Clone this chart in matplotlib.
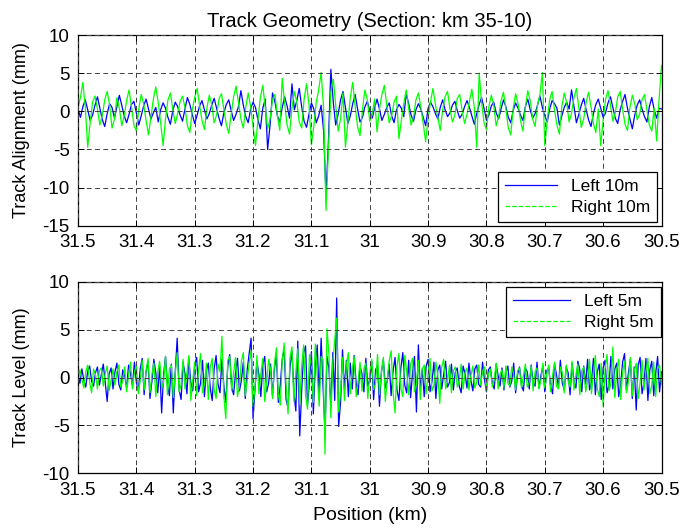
import matplotlib
matplotlib.use("Agg")

import matplotlib.pyplot as plt
import numpy as np
from matplotlib.lines import Line2D

plt.rcParams["font.family"] = ["Liberation Sans", "DejaVu Sans"]
plt.rcParams["font.size"] = 13
plt.rcParams["axes.unicode_minus"] = False

# section start / end (km)
km_start = 31.5
km_end = 30.5

# track alignment, 10m chord (mm)
left_10m = [
    0.3, -0.8, 0.6, 1.5, 0.2, -1.2, -0.5, 0.8, 1.9, 0.4, -1.1, -2.0, -0.3, 1.0, 0.5, -0.9, 0.6, 2.1, 0.8, -0.6,
    -1.5, -0.4, 0.9, 1.3, -0.2, -1.8, -0.6, 0.7, 1.6, 0.3, -1.0, -0.2, 0.5, -1.4, 0.2, 1.1, 0.4, -0.8, -1.7, 0.1,
    1.2, 0.6, -0.5, -1.3, 0.3, 1.8, 0.9, -0.4, -1.6, -0.5, 0.7, 1.4, 0.2, -1.0, -0.3, 0.8, 1.7, 0.4, -0.9, -1.9,
    -0.2, 0.9, 1.5, 0.1, -1.2, -0.4, 0.6, 2.7, 0.8, -0.7, -1.5, 0.3, 1.2, 0.5, -1.1, -2.3, 0.4, 1.6, -5.0, -1.8,
    2.4, 1.2, -0.6, -1.4, 0.5, 1.9, 0.7, -0.9, 3.6, 0.2, 1.4, 3.0, 0.6, -1.3, -2.1, -0.4, 1.1, 0.3, -1.5, -0.6,
    0.8, -2.5, -11.0, -4.0, 5.5, 1.2, -1.8, -0.4, 1.5, 2.6, 0.5, -1.6, -0.6, 1.0, 2.2, 0.3, -1.4, -0.8, 0.6, 1.3,
    0.1, -0.9, 0.4, 1.6, 0.3, -1.2, -0.4, 0.5, 1.1, -0.6, -1.5, 0.2, 0.9, 0.4, -0.7, 2.3, 1.0, -0.5, -1.3, 0.2,
    1.0, 0.3, -0.8, -1.9, 0.4, 1.2, 0.6, -0.3, -1.0, 0.5, 1.5, 0.2, -0.7, -0.2, 0.8, 1.3, 0.1, -0.9, -0.4, 0.6,
    1.4, 0.5, -0.6, -1.7, -0.3, 0.9, 1.8, 0.4, -1.2, -0.5, 0.7, 1.2, -0.2, -1.0, 0.3, 1.5, 0.6, -0.8, -1.5, 0.1,
    1.1, 0.4, -0.5, -1.2, 0.6, 1.6, 0.2, -0.9, -0.3, 0.8, 2.0, 0.5, -0.6, -1.4, 0.3, 1.4, 1.0, 0.4, -1.8, -0.6,
    0.5, 1.2, 0.3, 2.8, 0.6, -1.5, -0.4, 0.8, 1.7, 0.2, -1.1, -2.0, -0.3, 0.9, 1.6, 0.4, -0.8, -0.2, 1.1, 1.9,
    0.5, -0.9, -1.6, 0.2, 1.3, 2.2, 0.4, -1.0, -2.3, -0.5, 0.8, 1.5, 0.3, -0.7, -1.4, 0.6, 1.8, 0.2, -0.9, 0.4, 0.3,
]
right_10m = [
    0.5, 1.8, 3.8, 0.5, -4.7, -1.5, 1.2, 2.0, 0.3, -1.8, -0.5, 1.5, 2.6, 0.8, -2.2, -1.0, 1.8, 0.4, -1.9, -0.6,
    1.4, 2.8, 0.6, -1.8, -2.6, 0.3, 2.2, 1.0, -1.2, -3.1, -0.8, 1.6, 3.2, 1.2, -1.5, -4.5, -1.0, 1.5, 2.4, 0.2,
    -1.6, -0.3, 1.3, 2.0, 0.5, -1.9, -2.8, 0.2, 1.8, 3.0, 0.8, -1.2, -2.4, 0.4, 2.1, 0.9, -1.5, -0.5, 1.6, 2.3,
    0.2, -1.7, -2.9, -0.4, 1.9, 3.3, 1.1, -1.0, -2.2, 0.5, 2.4, 0.7, -2.0, -4.5, -1.2, 1.8, 3.4, 0.6, -2.3, -1.0,
    1.5, 2.2, -0.5, -2.5, 4.3, 1.0, -1.8, -3.0, 0.4, 2.6, 1.2, -1.4, -2.2, 1.6, 3.6, 0.9, -4.4, -2.0, 1.2, 2.8,
    5.1, 0.5, -13.0, -5.0, 2.5, 4.2, 0.8, -2.6, -1.0, 2.4, -4.7, -1.5, 1.8, 3.8, 0.6, -2.0, -3.2, 0.2, 2.8, 1.5,
    -1.3, -0.4, 1.6, -2.7, 0.3, 2.2, 3.4, 0.8, -1.5, -0.6, 1.2, 2.0, -3.6, -1.2, 1.0, 2.8, 0.4, -1.8, -0.8, 1.5,
    2.4, 0.6, -1.6, -4.0, -1.0, 1.3, 3.0, 0.9, -0.8, -2.5, 0.2, 1.9, 2.6, 0.3, -1.4, -0.5, 1.7, 2.2, 0.1, -1.6,
    -0.4, 1.3, 2.9, 0.5, -4.7, 5.0, 1.2, -1.5, -2.4, 0.6, 2.1, 0.8, -1.9, -0.7, 1.4, 2.5, 0.3, -2.2, -3.1, 0.4,
    2.3, 1.0, -1.2, -2.6, 0.5, 2.7, 1.4, -1.0, -2.0, 0.8, 2.2, 5.1, -4.5, -1.2, 1.5, 2.6, 0.2, -1.8, -3.0, 0.6,
    2.4, 1.1, -1.4, -0.3, 1.8, 3.0, 0.4, -2.1, -1.0, 1.2, 2.5, 0.6, -1.6, -2.8, 0.3, -4.5, -1.2, 1.6, 2.7, 0.8,
    -1.3, -0.2, 1.9, 2.6, 0.3, -1.7, -2.5, 0.5, 2.1, 1.0, -1.1, -0.4, 1.5, 2.2, 0.2, -1.8, -2.6, 0.4, -3.9, 1.5, 6.0,
]

# track level, 5m chord (mm)
left_5m = [
    0.2, -0.6, 0.9, -0.3, -1.0, 0.7, 1.2, -0.4, -0.9, 0.5, 1.1, -0.8, 0.3, 1.4, -0.6, -2.5, 0.4, 1.0, -1.2, 0.6,
    1.5, -0.7, -1.3, 0.8, 0.2, -1.1, 1.3, 0.4, -0.9, 1.6, -0.5, -1.4, 0.9, 2.0, -1.8, 0.6, 1.7, -2.2, -0.4, 1.9,
    0.5, -1.6, 1.2, -3.7, 0.3, 2.2, -0.8, -1.9, 1.4, -3.7, 0.6, 4.1, -1.3, -2.3, 1.6, 0.4, -1.7, 2.0, -0.5, -1.4,
    1.3, 2.1, -1.5, -0.6, 1.8, -2.0, 0.7, 1.5, -1.1, -2.4, 0.9, 2.3, -0.7, -1.6, 1.9, -0.9, -2.6, 1.2, 2.4, -1.0,
    -1.8, 0.5, 2.0, -1.4, -0.3, 1.6, -2.2, 0.8, 2.5, 4.1, -4.3, -1.2, 1.7, 0.3, -2.0, 1.3, 2.2, -1.5, -0.6, 1.4,
    -1.9, 0.9, 2.4, -2.6, -0.8, 1.9, 3.0, -2.3, -3.2, 1.1, 2.8, -1.6, -3.5, 3.8, -6.1, -1.4, 2.5, 3.3, -2.9, -0.5,
    2.7, -3.8, 1.2, 3.4, -2.1, 4.1, -1.0, -5.7, 2.2, 1.0, -3.1, 2.6, -2.4, 8.3, -5.1, -2.6, 2.9, -1.3, 1.8, -2.0,
    1.5, -1.2, 2.3, -0.6, -1.8, 1.2, 0.4, -1.5, 2.0, -0.9, -0.2, 1.7, -2.3, 0.8, 1.3, -3.0, 0.6, 1.9, -1.1, -0.4,
    1.4, -1.9, 0.7, 2.1, -1.3, -2.4, 1.0, 2.6, -0.8, -1.6, 1.8, -2.1, 0.5, 2.2, -3.6, 3.4, -1.4, 0.9, -2.0, 1.2,
    1.9, -1.5, -0.4, 1.6, -2.2, 0.8, 1.3, -1.2, 0.3, 1.7, -1.0, -0.5, 1.4, -1.3, 0.6, 1.0, -0.9, -1.6, 1.2, 0.4,
    -1.1, 1.5, -0.3, -1.4, 0.9, 1.3, -0.7, -1.0, 1.6, -0.2, -1.5, 0.8, 1.1, -0.6, -1.2, 1.4, 0.2, -0.9, 1.0, -1.3,
    0.5, 1.2, -1.0, -0.4, 1.5, -1.6, 0.3, 1.1, -0.8, -1.4, 1.0, 0.6, -1.2, 1.3, -0.5, -0.9, 1.6, -1.1, 0.2, 1.2,
    -1.5, 0.7, 1.0, -0.9, -1.7, 1.4, 0.3, -1.0, 1.8, -0.6, -1.3, 1.1, 0.5, -1.8, 1.5, -0.4, -1.1, 1.7, 0.8, -1.5,
    1.2, -0.7, 1.9, -1.3, -0.5, 2.0, -1.8, 0.6, 1.4, -2.3, 1.0, 1.8, -1.6, -0.8, 2.2, -1.2, 0.9, 1.5, -2.0, -0.7,
    1.6, 2.5, -1.4, 0.5, 1.9, -2.2, 1.1, -3.4, 1.3, 2.1, -1.7, -0.6, 2.0, -2.4, 0.8, 1.7, -1.9, 0.4, 2.2, -1.5, 0.6,
]
right_5m = [
    -0.4, 0.8, -0.2, -1.1, 0.6, 1.3, -0.5, -1.6, 0.9, 0.3, -1.2, 0.7, 1.0, -0.9, 0.4, 1.2, -1.4, -0.3, 0.9, -0.8,
    0.6, 1.3, -1.0, -0.4, 1.1, -1.5, 0.2, 1.6, -1.2, 0.5, 1.4, -1.7, -0.3, 1.8, -1.3, 0.7, 2.0, -1.6, 0.3, 1.5,
    -2.0, 0.6, 1.7, -1.1, -0.5, 2.2, -1.8, 0.9, 1.3, -2.1, 0.4, 2.6, -1.5, -0.8, 1.9, -1.2, 0.5, 2.3, -2.4, -0.3,
    1.6, -1.9, 0.8, 2.5, -1.6, -0.7, 1.5, -2.3, 1.1, 2.0, -1.3, -2.2, 1.4, 0.6, 4.3, -2.0, -4.3, 1.8, 2.2, -1.4,
    0.5, 2.1, -2.0, -0.9, 1.7, 2.6, -1.9, -0.3, 1.5, 2.8, -3.0, -1.0, 2.3, -1.7, 0.4, 2.0, -2.5, -0.6, 1.9, 0.8,
    -2.2, 1.4, 3.1, -1.8, -2.9, 1.7, 3.6, -0.9, -3.8, 2.1, 3.2, -2.5, 0.6, 3.0, -2.8, 1.2, 3.4, -1.9, -3.3, 2.4,
    1.1, -2.6, 3.5, 0.4, -3.0, 2.2, 1.8, -8.0, 5.1, 2.5, -4.2, 1.6, 3.9, 6.2, -3.6, -1.5, 2.1, -2.4, 1.3, 2.6,
    -1.7, 0.8, 2.2, -2.0, -0.4, 1.6, -1.4, 0.9, 1.5, -2.2, 0.3, 1.9, -1.3, -0.6, 2.4, -1.8, 0.5, 2.1, -2.5, -0.2,
    1.7, 2.8, -1.6, -3.7, 1.2, 2.5, -1.1, -2.0, 2.3, 0.6, -1.8, 1.4, 2.0, -1.5, -0.7, 1.8, -2.3, 0.9, 1.3, -1.7,
    0.4, 2.0, -1.4, -0.8, 1.6, 0.2, -2.7, 1.1, 1.9, -1.2, -0.4, 1.3, -1.6, 0.7, 1.1, -1.0, -0.3, 1.4, -1.2, 0.5,
    1.0, -1.3, 0.2, 1.2, -1.1, -0.5, 1.3, -0.8, 0.6, 1.1, -1.4, 0.3, 0.9, -1.0, -0.2, 1.5, -1.2, 0.4, 0.8, -1.1,
    1.2, -0.6, -0.9, 1.1, 0.3, -1.3, 0.7, 1.0, -1.1, 0.2, 1.4, -1.0, -0.5, 1.2, -1.4, 0.6, 1.0, -1.2, -0.3, 1.5,
    -1.1, 0.4, 1.3, -1.5, 0.2, 1.6, -0.9, -1.2, 1.1, 0.5, -1.6, 1.3, -0.4, -1.0, 1.7, -1.3, 0.3, 1.4, -1.8, 0.7,
    1.1, -1.5, -0.3, 1.9, -1.7, 0.6, 2.3, -1.2, -2.0, 1.5, -3.0, 0.9, 2.4, -1.4, -0.6, 3.2, -2.1, 0.8, 1.9, -2.3,
    0.5, 1.7, -1.6, -0.4, 2.1, -1.9, 0.7, 1.5, -2.2, -0.5, 1.8, -1.3, 0.6, 2.0, -1.7, -0.8, 1.6, -2.0, 0.9, 1.3, -0.7,
]

xticks = [31.5, 31.4, 31.3, 31.2, 31.1, 31, 30.9, 30.8, 30.7, 30.6, 30.5]
xticklabels = ["31.5", "31.4", "31.3", "31.2", "31.1", "31", "30.9", "30.8", "30.7", "30.6", "30.5"]

pos_10m = np.linspace(km_start, km_end, len(left_10m))
pos_5m = np.linspace(km_start, km_end, len(left_5m))

blue = "#0000ff"
green = "#00ff00"

fig = plt.figure(figsize=(6.96, 5.31), dpi=100)
ax1 = fig.add_axes([78 / 696, 1 - 225.7 / 531, 583.5 / 696, 190.7 / 531])
ax2 = fig.add_axes([78 / 696, 1 - 473.3 / 531, 583.5 / 696, 191.6 / 531])


def style(ax):
    ax.set_xlim(km_start, km_end)
    ax.set_xticks(xticks)
    ax.set_xticklabels(xticklabels)
    ax.set_axisbelow(False)
    ax.grid(True, color="#404040", linestyle=(0, (5, 3.5)), linewidth=0.7)
    ax.tick_params(direction="in", top=True, right=True, length=4, width=0.7, pad=6, labelsize=13.5)
    for s in ax.spines.values():
        s.set_linewidth(0.9)


# top: alignment
ax1.plot(pos_10m, left_10m, color=blue, lw=0.9)
ax1.plot(pos_10m, right_10m, color=green, lw=0.9)
style(ax1)
ax1.set_ylim(-15, 10)
ax1.set_yticks([-15, -10, -5, 0, 5, 10])
ax1.set_ylabel("Track Alignment (mm)", fontsize=13, labelpad=9)
ax1.set_title("Track Geometry (Section: km 35-10)", pad=6, fontsize=14.5)
h1 = [Line2D([], [], color=blue, lw=0.9), Line2D([], [], color=green, lw=0.9, ls="--")]
leg1 = ax1.legend(h1, ["Left 10m", "Right 10m"], loc="lower right", bbox_to_anchor=(0.992, 0.019),
                  borderaxespad=0, fancybox=False, framealpha=1, edgecolor="black", fontsize=12.5,
                  handlelength=3.0, labelspacing=0.35, borderpad=0.4)
leg1.get_frame().set_linewidth(0.9)

# bottom: level
ax2.plot(pos_5m, left_5m, color=blue, lw=0.9)
ax2.plot(pos_5m, right_5m, color=green, lw=0.9)
style(ax2)
ax2.set_ylim(-10, 10)
ax2.set_yticks([-10, -5, 0, 5, 10])
ax2.set_ylabel("Track Level (mm)", fontsize=13, labelpad=9)
ax2.set_xlabel("Position (km)", fontsize=14, labelpad=6)
h2 = [Line2D([], [], color=blue, lw=0.9), Line2D([], [], color=green, lw=0.9, ls="--")]
leg2 = ax2.legend(h2, ["Left 5m", "Right 5m"], loc="upper right", bbox_to_anchor=(0.999, 0.972),
                  borderaxespad=0, fancybox=False, framealpha=1, edgecolor="black", fontsize=12.5,
                  handlelength=3.3, labelspacing=0.35, borderpad=0.4)
leg2.get_frame().set_linewidth(0.9)

fig.savefig("out.png", dpi=100)
